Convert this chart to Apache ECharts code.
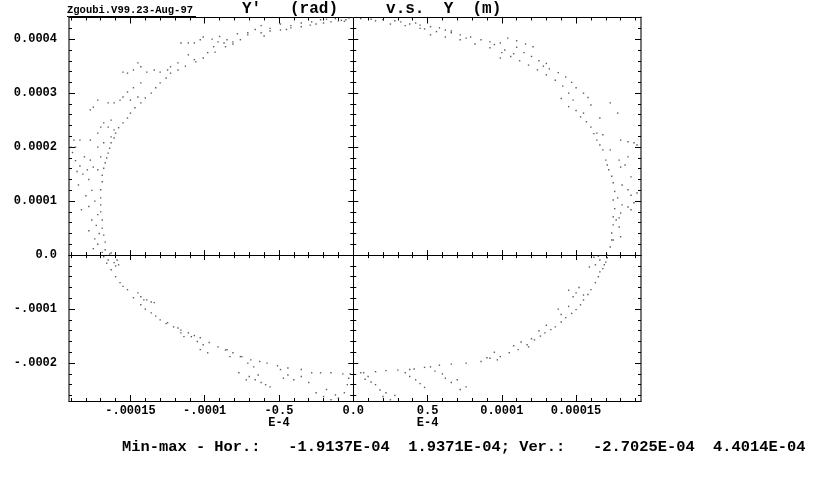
<!DOCTYPE html>
<html><head><meta charset="utf-8">
<script src="https://cdn.jsdelivr.net/npm/echarts@6/dist/echarts.min.js"></script>
<style>html,body{margin:0;padding:0;background:#fff}#c{width:814px;height:477px}</style>
</head><body><div id="c"></div>
<script>
// Axis ranges (from the Min-max line)
const X_MIN = -1.9137e-4, X_MAX = 1.9371e-4;
const Y_MIN = -2.7025e-4, Y_MAX = 4.4014e-4;

// Tick labels
const xTickValues = [-1.5e-4, -1e-4, -5e-5, 0, 5e-5, 1e-4, 1.5e-4];
const xTickLabels = ['-.00015', '-.0001', '-0.5\nE-4', '0.0', '0.5\nE-4', '0.0001', '0.00015'];
const yTickValues = [-2e-4, -1e-4, 0, 1e-4, 2e-4, 3e-4, 4e-4];
const yTickLabels = ['-.0002', '-.0001', '0.0', '0.0001', '0.0002', '0.0003', '0.0004'];

// Particle coordinates, in micro-units (1e-6): [Y (m), Y' (rad)]
const upperLeft = [
[-3,439],[-8,435],[-12,438],[-18,437],[-22,436],[0,440],[-6,433],
[-5,436],[-10,434],[-15,432],[-20,430],[-25,428],[-29,426],[-35,423],[-42,421],[-49,417],[-56,415],[-62,412],[-71,408],[-76,399],[-81,391],[-86,386],[-93,376],[-101,365],[-106,358],[-113,350],[-118,343],[-123,337],[-126,328],[-130,319],[-133,310],[-136,300],[-140,291],[-143,282],[-147,273],[-150,263],[-152,254],[-155,245],[-158,236],[-160,226],[-161,217],[-163,208],[-164,198],[-165,189],[-166,180],[-167,171],[-168,161],[-169,148],[-169,136],[-170,121],[-170,106],[-170,93],[-170,80],[-169,65],[-169,50],[-168,37],[-167,24],[-167,10],
[-71,412],[-81,395],[-85,399],[-87,393],[-91,395],[-94,386],[-101,404],[-103,399],[-107,393],[-111,393],[-116,393],[-98,375],[-107,362],[-111,371],[-118,356],[-123,349],[-125,343],[-130,339],[-134,343],[-139,339],[-143,349],[-148,343],[-152,337],[-155,339],[-145,356],[-143,319],[-148,310],[-152,302],[-145,293],[-157,287],[-161,282],[-165,282],[-172,287],[-175,274],[-177,269],[-150,287],[-155,293],[-163,250],[-168,245],[-170,237],[-165,237],[-161,232],[-172,226],[-177,213],[-184,213],[-188,213],[-187,200],[-190,200],[-181,182],[-177,176],[-175,163],[-179,158],[-172,158],[-170,182],[-172,200],[-168,208],[-163,219],
[-182,150],[-178,140],[-185,130],[-176,120],[-180,110],[-174,100],[-178,90],[-183,84],[-172,75],[-176,65],[-173,55],[-178,45],[-171,40],[-174,30],[-172,20],[-175,12],[-169,5],[-187,175],[-184,165],[-189,190],[-186,155],
[-62,425],[-56,420],[-49,428],[-42,425],[-35,430],[-45,418],[-66,418],[-78,410],[-90,405],[-95,400],[-60,406],[-28,432]
];
const lowerLeft = [
[-168,-3],[-163,-27],[-157,-51],[-152,-64],[-148,-79],[-143,-92],[-136,-107],[-130,-120],[-121,-133],[-111,-144],[-103,-153],[-91,-170],[-81,-181],[-69,-194],[-58,-200],[-44,-209],[-35,-212],[-28,-218],[-22,-218],[-15,-218],[-7,-220],[-2,-220],
[-166,-15],[-160,-40],[-155,-58],[-140,-100],[-133,-113],[-126,-127],[-116,-139],[-107,-149],[-97,-162],[-86,-176],[-75,-188],[-63,-197],[-51,-205],
[-165,-9],[-161,-14],[-159,-9],[-163,4],[-160,-20],[-158,-18],[-164,2],[-145,-70],[-143,-77],[-139,-83],[-136,-87],[-134,-88],[-141,-83],[-125,-125],[-118,-135],[-116,-144],[-114,-151],[-109,-151],[-105,-160],[-101,-166],[-103,-175],[-98,-181],[-85,-175],[-83,-188],[-76,-188],[-71,-200],[-67,-207],[-77,-218],[-70,-225],[-66,-231],[-62,-236],[-59,-240],[-56,-244],[-72,-231],[-64,-222],[-49,-212],[-44,-222],[-40,-231],[-35,-225],[-30,-236],[-47,-228],[-25,-255],[-20,-262],[-15,-268],[-12,-259],[-10,-265],[-18,-249],[-4,-240],[-6,-255],[-3,-228]
];
const lowerRight = [
[5,-218],[10,-225],[15,-240],[20,-262],[25,-268],[18,-250],[12,-235],[8,-230],[22,-255],[28,-260],
[7,-218],[15,-216],[22,-214],[30,-213],[38,-212],[41,-211],
[35,-218],[42,-231],[48,-245],[45,-238],[38,-225],
[52,-207],[60,-220],[66,-236],[72,-249],[76,-244],[70,-231],[62,-228],[55,-215],
[76,-200],[86,-197],[97,-194],[99,-188],[105,-181],[111,-175],[113,-161],[122,-157],
[129,-144],[136,-133],[143,-116],[150,-101],[155,-83],[160,-64],[163,-51],[166,-31],[169,-18],[171,-5],
[145,-65],[150,-70],[155,-74],[148,-77],[152,-60],
[162,-4],[166,-9],[170,-13],[163,-18],[159,-22],[168,-25],[165,-2],
[120,-155],[118,-170],[108,-168],[95,-180],[90,-190],[130,-130],[125,-140],[140,-110],[138,-100],[145,-95],
[48,-208],[58,-204],[66,-202],[92,-191],[117,-166],[126,-150],[133,-138],[140,-124],[147,-108],[153,-92],[158,-73],[165,-40]
];
const upperRight = [
[5,438],[12,437],[20,436],[28,434],[32,432],[38,428],[42,430],[45,426],[48,419],[52,423],[58,421],[62,417],[66,415],
[66,412],[72,408],[76,402],[79,404],[86,399],[92,395],[99,393],
[104,402],[110,397],[116,391],[121,386],[115,375],[99,365],
[52,408],[62,404],[72,399],[82,391],[92,384],[100,375],[106,368],[112,360],[118,352],[124,343],[130,334],[136,324],[141,313],[145,300],
[102,380],[108,373],[120,368],[125,360],[130,355],[132,345],[138,338],[143,330],[147,320],[150,310],[155,300],[158,292],[128,350],[110,385],[95,390],[140,290],[145,275],[150,268],
[148,287],[153,256],[160,237],[164,213],[168,195],[170,176],[172,158],[175,134],[175,102],[175,71],[174,41],[173,15],[171,0],
[173,282],[178,263],[189,208],[191,204],[185,182],[180,163],[187,145],[191,115],[189,97],[185,89],[180,78],[179,52],[177,65],
[160,278],[166,254],[155,263],[164,226],[168,223],[180,213],[185,210],[173,195],[179,176],[183,167],[181,130],[185,121],[187,111],[178,106],[181,93],[187,84],[179,69],[175,28],[180,34],
[157,247],[162,225],[166,204],[171,167],[174,146],[176,118],[176,86],[175,56],[174,28],[25,428],[15,434],[35,425],[45,420],[56,414]
];

const MICRO = 1e-6;
const points = [].concat(upperLeft, lowerLeft, lowerRight, upperRight).map(p => [p[0] * MICRO, p[1] * MICRO]);

// Minor tick positions
const xMinor = []; for (let k = -19; k <= 19; k++) xMinor.push(k * 1e-5);
const yMinor = []; for (let k = -13; k <= 22; k++) yMinor.push(k * 2e-5);

const FONT = 'Liberation Mono';
function lookup(vals, labels, v) {
  for (let i = 0; i < vals.length; i++) if (Math.abs(vals[i] - v) < 1e-9) return labels[i];
  return '';
}
const black = {color: '#000', width: 1};
function xa(position, onZero, showLine, inside, len, ticks, label) {
  return {
    type: 'value', min: X_MIN, max: X_MAX, position: position,
    splitLine: {show: false},
    axisLine: {show: showLine, onZero: onZero, onZeroAxisIndex: 0, lineStyle: black},
    axisTick: {show: true, inside: inside, length: len, customValues: ticks, lineStyle: black},
    axisLabel: label || {show: false}
  };
}
function ya(position, onZero, showLine, inside, len, ticks, label, lineStyle) {
  return {
    type: 'value', min: Y_MIN, max: Y_MAX, position: position,
    splitLine: {show: false},
    axisLine: {show: showLine, onZero: onZero, onZeroAxisIndex: 0, lineStyle: lineStyle || black},
    axisTick: {show: true, inside: inside, length: len, customValues: ticks, lineStyle: black},
    axisLabel: label || {show: false}
  };
}
const labStyle = {fontFamily: FONT, fontWeight: 'bold', fontSize: 12, color: '#000'};
const frameSide = {color: '#777', width: 2};

const option = {
  animation: false,
  backgroundColor: '#fff',
  grid: {left: 69, right: 173, top: 17.5, bottom: 76, containLabel: false},
  title: [
    {text: 'Zgoubi.V99.23-Aug-97', left: 67, top: 5, padding: 0, textStyle: {fontFamily: FONT, fontWeight: 'bold', fontSize: 10.5, lineHeight: 11, color: '#000'}},
    {text: "Y'   (rad)     v.s.  Y  (m)", left: 242, top: 1, padding: 0, textStyle: {fontFamily: FONT, fontWeight: 'bold', fontSize: 16, lineHeight: 16, color: '#000'}},
    {text: 'Min-max - Hor.:   -1.9137E-04  1.9371E-04; Ver.:   -2.7025E-04  4.4014E-04', left: 122, top: 439, padding: 0, textStyle: {fontFamily: FONT, fontWeight: 'bold', fontSize: 15.4, lineHeight: 16, color: '#000'}}
  ],
  graphic: [{type: 'line', shape: {x1: 67, y1: 16.5, x2: 196, y2: 16.5}, style: {stroke: '#000', lineWidth: 1}}],
  xAxis: [
    xa('bottom', false, true, true, 6, xTickValues, Object.assign({show: true, customValues: xTickValues, margin: 4, lineHeight: 12,
      formatter: v => lookup(xTickValues, xTickLabels, v)}, labStyle)),
    xa('bottom', false, false, true, 3, xMinor),
    xa('top', false, true, true, 6, xTickValues),
    xa('top', false, false, true, 3, xMinor),
    xa('bottom', true, true, true, 5, xTickValues),
    xa('bottom', true, true, false, 5, xTickValues),
    xa('bottom', true, false, true, 3, xMinor),
    xa('bottom', true, false, false, 3, xMinor)
  ],
  yAxis: [
    ya('left', false, true, true, 6, yTickValues, Object.assign({show: true, customValues: yTickValues, margin: 12,
      formatter: v => lookup(yTickValues, yTickLabels, v)}, labStyle), frameSide),
    ya('left', false, false, true, 3, yMinor),
    ya('right', false, true, true, 6, yTickValues, null, frameSide),
    ya('right', false, false, true, 3, yMinor),
    ya('left', true, true, true, 5, yTickValues),
    ya('left', true, true, false, 5, yTickValues),
    ya('left', true, false, true, 3, yMinor),
    ya('left', true, false, false, 3, yMinor)
  ],
  series: [{
    type: 'scatter', xAxisIndex: 0, yAxisIndex: 0, data: points,
    symbol: 'rect', symbolSize: 1.4, itemStyle: {color: '#333'}, silent: true
  }]
};
echarts.init(document.getElementById('c'), null, {renderer: 'canvas'}).setOption(option);
</script></body></html>
